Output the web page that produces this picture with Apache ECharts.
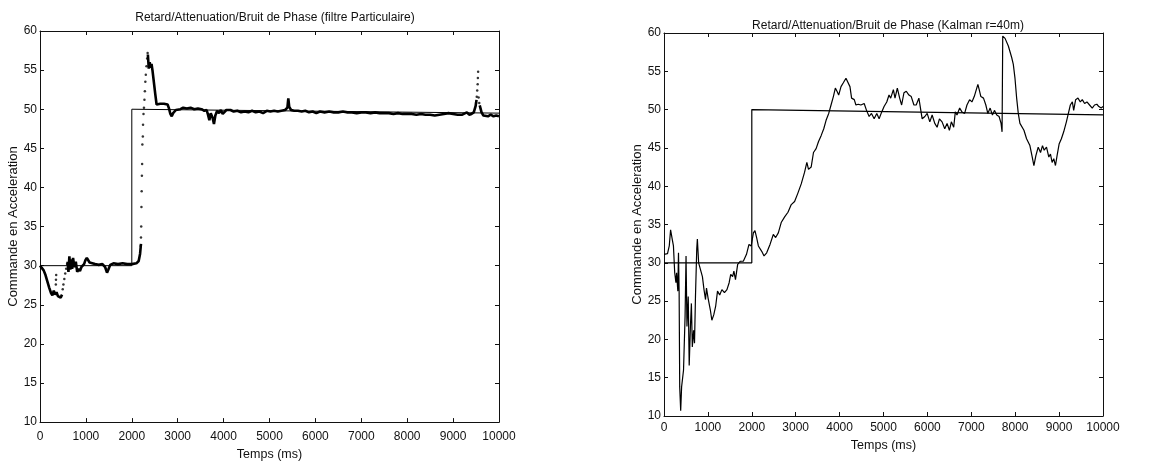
<!DOCTYPE html>
<html><head><meta charset="utf-8">
<script src="https://cdn.jsdelivr.net/npm/echarts@6/dist/echarts.min.js"></script>
<style>html,body{margin:0;padding:0;background:#fff}#c{width:1158px;height:466px}</style>
</head><body><div id="c"></div>
<script>
// ---------- data ----------
const leftTitle = 'Retard/Attenuation/Bruit de Phase (filtre Particulaire)';
const rightTitle = 'Retard/Attenuation/Bruit de Phase (Kalman r=40m)';
const xName = 'Temps (ms)';
const yName = 'Commande en Acceleration';
const xRange = [0, 10000], xStep = 1000;
const yRange = [10, 60], yStep = 5;

const leftReference = [[0,30],[2000,30],[2000,50],[10000,49.5]];
const leftEstimateA = [[0,30],[40,29.8],[80,29.4],[120,28.8],[160,28],[200,27.2],[240,26.5],[270,26.2],[300,26.8],[330,26.3],[360,26.6],[390,26.1],[420,26.3],[450,25.9],[480,26.3]];
const leftEstimateB = [[600,30.5],[620,29.2],[640,31.2],[660,29.5],[680,30.8],[700,29.6],[720,31],[750,29.8],[780,30.5],[810,29.2],[840,29.6],[870,29.3],[900,29.8],[930,29.6],[960,30.2],[990,30.7],[1020,31],[1050,30.8],[1080,30.4],[1120,30.2],[1200,30.2],[1280,30.1],[1360,30.2],[1420,29.8],[1460,29.1],[1490,29.5],[1530,30.1],[1600,30.3],[1700,30.2],[1800,30.3],[1900,30.2],[2000,30.2],[2100,30.3],[2150,30.6],[2180,31.5],[2200,32.8]];
const leftEstimateC = [[2350,57],[2370,55.2],[2390,56],[2410,55.3],[2430,55.8],[2450,55],[2480,53.5],[2510,52],[2540,50.6],[2580,50.4],[2620,50.7],[2660,50.5],[2700,50.7],[2740,50.5],[2780,50.6],[2810,50.1],[2840,49.4],[2870,49.1],[2900,49.5],[2930,49.3],[2960,49.9],[3000,50.1],[3060,50.0],[3120,50.2],[3200,50.1],[3280,50.2],[3360,50.0],[3440,50.1],[3520,50.0],[3580,49.8],[3630,49.9],[3660,49.3],[3690,48.6],[3720,49.5],[3760,48.9],[3790,48.1],[3820,49.2],[3860,49.8],[3900,49.5],[3940,49.9],[3980,49.4],[4020,49.6],[4060,49.9],[4100,49.7],[4150,49.9],[4220,49.7],[4300,49.8],[4380,49.6],[4460,49.7],[4540,49.6],[4620,49.8],[4700,49.6],[4780,49.7],[4860,49.5],[4940,49.8],[5020,49.7],[5100,49.8],[5180,49.7],[5260,49.8],[5340,49.9],[5390,50.2],[5410,51.4],[5430,50.3],[5470,49.9],[5540,49.8],[5620,49.8],[5700,49.7],[5780,49.8],[5860,49.6],[5940,49.7],[6020,49.5],[6100,49.7],[6200,49.6],[6300,49.7],[6400,49.6],[6500,49.6],[6600,49.7],[6700,49.6],[6800,49.6],[6900,49.5],[7000,49.6],[7100,49.6],[7200,49.5],[7300,49.6],[7400,49.5],[7500,49.5],[7600,49.5],[7700,49.4],[7800,49.5],[7900,49.4],[8000,49.4],[8100,49.4],[8200,49.3],[8300,49.4],[8400,49.3],[8500,49.3],[8600,49.2],[8700,49.3],[8800,49.4],[8900,49.5],[9000,49.4],[9100,49.3],[9200,49.3],[9300,49.6],[9350,49.3],[9400,49.4],[9450,49.6],[9490,50.4],[9510,51.2]];
const leftEstimateD = [[9580,50.5],[9620,49.6],[9660,49.2],[9700,49.3],[9760,49.1],[9820,49.3],[9880,49.1],[9940,49.2],[10000,49.1]];
const leftDots = [[345,27.6],[348,28.2],[352,28.8],[495,27],[510,27.6],[530,28.3],[550,29],[570,29.6],[590,30.2],[2195,32.5],[2200,33.6],[2205,35],[2210,37.5],[2215,39.5],[2220,41.5],[2225,43],[2230,45.5],[2240,46.5],[2245,48],[2255,49.4],[2265,50.2],[2275,51.2],[2285,52.3],[2295,53.5],[2305,54.4],[2320,55.5],[2335,56.5],[2345,57.2],[9500,50.8],[9515,51.6],[9525,52.4],[9535,53.2],[9540,54],[9545,54.8],[9555,51.5],[9570,50.8]];

const rightReference = [[0,30],[2000,30],[2000,50],[10000,49.3]];
const rightEstimate = [[0,31.1],[80,31.2],[120,32.2],[150,34.3],[190,33],[215,32.2],[244,28.7],[272,27.4],[287,28.7],[315,26.3],[330,31.3],[345,26],[358,13.8],[380,10.7],[401,13.8],[445,16],[480,23],[502,30.9],[523,21.7],[552,25.6],[574,16.6],[602,21.7],[624,24.7],[645,19],[674,21.2],[695,19.5],[717,25.6],[746,31.8],[760,33.1],[789,30],[817,30.2],[875,28.2],[911,26.5],[946,25.2],[968,26.7],[1004,25.4],[1054,23.9],[1090,22.5],[1133,23.2],[1176,24.3],[1219,26.3],[1269,25.8],[1319,26.5],[1377,26.1],[1434,26.5],[1484,27.4],[1520,28.5],[1563,28.2],[1592,28.9],[1628,27.8],[1678,29.8],[1735,30.2],[1807,30.2],[1879,31.1],[1936,32.4],[1986,32.2],[2036,33.9],[2072,34.2],[2110,33.3],[2150,32.2],[2226,31.5],[2279,30.9],[2339,31.3],[2415,32.4],[2490,33.7],[2543,33.3],[2604,33.9],[2673,35.3],[2748,36],[2824,36.6],[2899,37.6],[2975,38],[3050,39.1],[3126,40.3],[3201,41.8],[3254,43.1],[3292,42.2],[3352,42.5],[3405,44.4],[3465,44.9],[3518,45.8],[3579,46.6],[3639,47.5],[3692,48.6],[3752,49.5],[3805,50.6],[3858,51.7],[3903,52.8],[3941,52.4],[3979,51.9],[4032,53],[4085,53.5],[4145,54.1],[4183,53.9],[4236,53],[4273,51.5],[4334,51.3],[4372,50.6],[4424,50.7],[4485,50.6],[4560,50.8],[4613,49.9],[4673,49.1],[4726,49.5],[4787,48.8],[4847,49.5],[4900,48.8],[4960,49.7],[5013,50.4],[5074,51],[5126,51.9],[5164,51.5],[5225,52.6],[5262,51.5],[5315,52.8],[5368,51.5],[5413,50.6],[5466,52.2],[5519,52.4],[5579,51.9],[5632,51.7],[5693,50.6],[5745,50.6],[5806,51.5],[5844,51.7],[5881,48.8],[5942,49.1],[5995,49.5],[6055,48.4],[6108,49.3],[6168,48.2],[6221,47.7],[6274,48.8],[6334,48.4],[6395,47.5],[6448,48.2],[6501,47.3],[6546,48.4],[6599,47.7],[6636,49.7],[6674,49.3],[6735,50.2],[6787,49.7],[6848,49.5],[6901,50.6],[6961,51.3],[7014,51],[7067,51.7],[7112,51.5],[7150,53.3],[7180,52.6],[7218,51.7],[7278,51.5],[7331,50.6],[7376,49.5],[7429,50.2],[7482,49.3],[7527,49.9],[7580,49.3],[7633,49.1],[7678,48.2],[7701,47.1],[7716,59.6],[7769,59.3],[7844,58.3],[7920,56.8],[7957,55.9],[7995,54.1],[8033,51.5],[8070,49.5],[8108,48.2],[8146,48],[8199,47.3],[8259,46.2],[8335,45.3],[8388,43.8],[8426,42.7],[8471,44],[8524,45.1],[8577,44.4],[8622,45.3],[8660,44.7],[8713,45.1],[8766,43.8],[8803,44.2],[8841,43.1],[8879,43.6],[8917,42.7],[8954,44],[9000,45.5],[9052,46.2],[9105,47.1],[9166,48.4],[9203,49.3],[9256,50.6],[9302,51],[9332,49.9],[9377,51.3],[9430,51.5],[9483,51],[9528,51.3],[9581,50.8],[9634,51],[9694,50.6],[9755,50.2],[9807,50.6],[9860,50.7],[9905,50.4],[9958,50.2],[10000,50.4]];

// ---------- chart ----------
const FONT = '"Liberation Sans", Arial, sans-serif';
const INK = '#111';
function xAx(grid, pos, labels, labelMargin, nameGap) {
  return {
    type: 'value', gridIndex: grid, position: pos, min: xRange[0], max: xRange[1], interval: xStep,
    axisLine: {show: true, onZero: false, lineStyle: {color: INK, width: 1}},
    axisTick: {show: true, inside: true, length: 4, lineStyle: {color: INK}},
    axisLabel: {show: labels, color: INK, fontFamily: FONT, fontSize: 12, margin: labelMargin,
                formatter: v => String(v)},
    splitLine: {show: false},
    name: labels ? xName : '', nameLocation: 'middle', nameGap: nameGap,
    nameTextStyle: {color: INK, fontFamily: FONT, fontSize: 12.5}
  };
}
function yAx(grid, pos, labels) {
  return {
    type: 'value', gridIndex: grid, position: pos, min: yRange[0], max: yRange[1], interval: yStep,
    axisLine: {show: true, onZero: false, lineStyle: {color: INK, width: 1}},
    axisTick: {show: true, inside: true, length: 4, lineStyle: {color: INK}},
    axisLabel: {show: labels, color: INK, fontFamily: FONT, fontSize: 12, margin: 3},
    splitLine: {show: false},
    name: labels ? yName : '', nameLocation: 'middle', nameGap: 18, nameRotate: 90,
    nameTextStyle: {color: INK, fontFamily: FONT, fontSize: 13}
  };
}
function line(data, xi, yi, w) {
  return {type: 'line', data: data, xAxisIndex: xi, yAxisIndex: yi, showSymbol: false, symbol: 'none',
    lineStyle: {color: '#000', width: w}, animation: false, silent: true};
}
const option = {
  backgroundColor: '#fff',
  animation: false,
  title: [
    {text: leftTitle, left: 270, top: 7, textAlign: 'center',
     textStyle: {fontFamily: FONT, fontSize: 12, fontWeight: 'normal', color: INK}},
    {text: rightTitle, left: 883, top: 15, textAlign: 'center',
     textStyle: {fontFamily: FONT, fontSize: 12, fontWeight: 'normal', color: INK}}
  ],
  grid: [
    {left: 40, right: 659, top: 31, bottom: 39},
    {left: 664, right: 55, top: 33, bottom: 50}
  ],
  xAxis: [xAx(0, 'bottom', true, 9, 24), xAx(0, 'top', false, 0, 0), xAx(1, 'bottom', true, 6, 21), xAx(1, 'top', false, 0, 0)],
  yAxis: [yAx(0, 'left', true), yAx(0, 'right', false), yAx(1, 'left', true), yAx(1, 'right', false)],
  series: [
    line(leftReference, 0, 0, 1),
    line(leftEstimateA, 0, 0, 2.6),
    line(leftEstimateB, 0, 0, 2.6),
    line(leftEstimateC, 0, 0, 2.6),
    line(leftEstimateD, 0, 0, 2.6),
    {type: 'scatter', data: leftDots, xAxisIndex: 0, yAxisIndex: 0, symbolSize: 2.5,
     itemStyle: {color: '#000'}, animation: false, silent: true},
    line(rightReference, 2, 2, 1.2),
    line(rightEstimate, 2, 2, 1.2)
  ]
};
const chart = echarts.init(document.getElementById('c'), null, {renderer: 'canvas'});
chart.setOption(option);
</script>
</body></html>
